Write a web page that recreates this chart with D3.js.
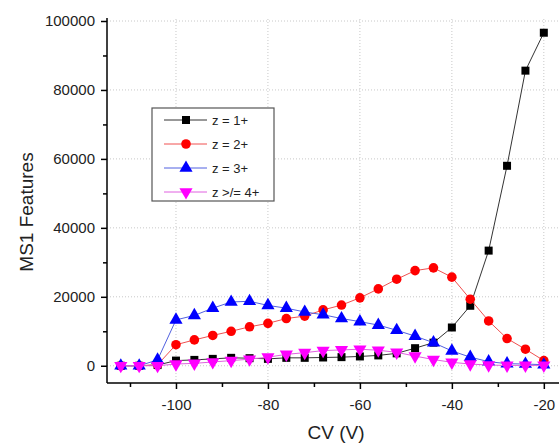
<!DOCTYPE html>
<html>
<head>
<meta charset="utf-8">
<script src="https://cdn.jsdelivr.net/npm/d3@7"></script>
<style>
body { margin: 0; background: #fff; }
svg text { font-family: Arial, "Liberation Sans", sans-serif; }
</style>
</head>
<body>
<div id="chart"></div>
<script>
// CV values (V)
var cv = [-112, -108, -104, -100, -96, -92, -88, -84, -80, -76, -72, -68,
          -64, -60, -56, -52, -48, -44, -40, -36, -32, -28, -24, -20];

var z1 = [0, 0, 200, 1500, 1700, 2000, 2300, 2200, 2000, 2300, 2300, 2400,
          2500, 2700, 3000, 3600, 5100, 6700, 11100, 17400, 33400, 58000, 85600, 96600];
var z2 = [0, 0, 300, 6100, 7500, 8800, 10000, 11300, 12300, 13700, 14400, 16200,
          17600, 19700, 22300, 25100, 27600, 28400, 25700, 19300, 13000, 7900, 4800, 1500];
var z3 = [0, 0, 1700, 13300, 14600, 16700, 18500, 18700, 17500, 16700, 15600, 14800,
          13700, 12800, 11800, 10300, 8600, 6700, 4300, 2500, 1200, 600, 500, 300];
var z4 = [0, 0, 0, 500, 700, 1100, 1500, 1900, 2500, 3300, 3800, 4400,
          4600, 4800, 4500, 3900, 2800, 1800, 1000, 500, 200, 100, 100, 100];

var seriesNames = ["z = 1+", "z = 2+", "z = 3+", "z >/= 4+"];
var xTicks = [-100, -80, -60, -40, -20];
var yTicks = [0, 20000, 40000, 60000, 80000, 100000];

function init() {
  var w = 559, h = 443;
  var pLeft = 107, pRight = 559, pTop = 21, pBottom = 383;

  var svg = d3.select("#chart").append("svg")
    .attr("width", w).attr("height", h);

  var x = d3.scaleLinear().domain([-115, -16.7]).range([pLeft, pRight]);
  var y = d3.scaleLinear().domain([-5000, 100000]).range([pBottom, pTop]);

  // grid
  svg.append("g").selectAll("line").data(xTicks).enter().append("line")
    .attr("x1", function(d) { return x(d); }).attr("x2", function(d) { return x(d); })
    .attr("y1", pBottom).attr("y2", pTop - 2)
    .attr("stroke", "#c8c8c8").attr("stroke-width", 1).attr("stroke-dasharray", "1,2");
  svg.append("g").selectAll("line").data(yTicks).enter().append("line")
    .attr("x1", pLeft).attr("x2", pRight)
    .attr("y1", function(d) { return y(d); }).attr("y2", function(d) { return y(d); })
    .attr("stroke", "#c8c8c8").attr("stroke-width", 1).attr("stroke-dasharray", "1,2");

  // axes
  var xAxis = d3.axisBottom(x).tickValues(xTicks).tickSize(6).tickPadding(10)
    .tickFormat(function(d) { return String(d); });
  var gx = svg.append("g").attr("transform", "translate(0," + pBottom + ")").call(xAxis);
  var xMinor = d3.axisBottom(x).tickValues([-110, -90, -70, -50, -30]).tickSize(4).tickFormat("");
  svg.append("g").attr("transform", "translate(0," + pBottom + ")").call(xMinor)
    .select(".domain").remove();

  var yAxis = d3.axisLeft(y).tickValues(yTicks).tickSize(6).tickPadding(6)
    .tickFormat(function(d) { return String(d); });
  var gy = svg.append("g").attr("transform", "translate(" + pLeft + ",0)").call(yAxis);
  var yMinor = d3.axisLeft(y).tickValues([10000, 30000, 50000, 70000, 90000]).tickSize(4).tickFormat("");
  svg.append("g").attr("transform", "translate(" + pLeft + ",0)").call(yMinor)
    .select(".domain").remove();

  svg.selectAll(".domain").attr("stroke", "#000").attr("stroke-width", 1.5);
  svg.selectAll(".tick line").attr("stroke", "#000").attr("stroke-width", 1.5);
  svg.selectAll(".tick text").attr("font-size", 15).attr("fill", "#222")
    .style("font-family", "Arial, 'Liberation Sans', sans-serif");
  gx.select(".domain").attr("d", "M" + pLeft + ",0H" + pRight);
  gy.select(".domain").attr("d", "M0," + pBottom + "V" + (pTop - 3));

  // axis titles
  svg.append("text").attr("x", 336).attr("y", 439).attr("text-anchor", "middle")
    .attr("font-size", 19).attr("fill", "#222").text("CV (V)");
  svg.append("text").attr("transform", "translate(33,212) rotate(-90)")
    .attr("text-anchor", "middle").attr("font-size", 19).attr("fill", "#222").text("MS1 Features");

  // series
  var series = [
    { name: seriesNames[0], values: z1, line: "#333", fill: "#000", sym: d3.symbolSquare, size: 64 },
    { name: seriesNames[1], values: z2, line: "#f05050", fill: "#ff0000", sym: d3.symbolCircle, size: 72 },
    { name: seriesNames[2], values: z3, line: "#5060e0", fill: "#0000ff", sym: d3.symbolTriangle, size: 75 },
    { name: seriesNames[3], values: z4, line: "#e060e0", fill: "#ff00ff", sym: d3.symbolTriangle, size: 75, down: true }
  ];

  var line = d3.line()
    .x(function(d) { return x(d[0]); })
    .y(function(d) { return y(d[1]); });

  series.forEach(function(s) {
    var pts = cv.map(function(c, i) { return [c, s.values[i]]; });
    svg.append("path").datum(pts)
      .attr("fill", "none").attr("stroke", s.line).attr("stroke-width", 1)
      .attr("d", line);
    svg.append("g").selectAll("path").data(pts).enter().append("path")
      .attr("d", d3.symbol().type(s.sym).size(s.size))
      .attr("transform", function(d) {
        return "translate(" + x(d[0]) + "," + y(d[1]) + ")" + (s.down ? " rotate(180)" : "");
      })
      .attr("fill", s.fill);
  });

  // legend
  var lg = svg.append("g").attr("transform", "translate(152,108)");
  lg.append("rect").attr("width", 122).attr("height", 93)
    .attr("fill", "#fff").attr("stroke", "#555").attr("stroke-width", 1.2);
  series.forEach(function(s, i) {
    var ry = 12 + i * 24;
    lg.append("line").attr("x1", 12).attr("x2", 55).attr("y1", ry).attr("y2", ry)
      .attr("stroke", s.line).attr("stroke-width", 1);
    lg.append("path").attr("d", d3.symbol().type(s.sym).size(s.size))
      .attr("transform", "translate(34," + ry + ")" + (s.down ? " rotate(180)" : ""))
      .attr("fill", s.fill);
    lg.append("text").attr("x", 60).attr("y", ry + 5).attr("font-size", 13)
      .attr("fill", "#222").text(s.name);
  });
}

window.onload = init;
</script>
</body>
</html>
